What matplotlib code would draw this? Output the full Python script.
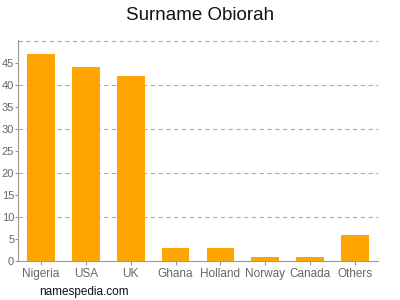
import matplotlib
matplotlib.use("Agg")
import matplotlib.pyplot as plt

countries = ["Nigeria", "USA", "UK", "Ghana", "Holland", "Norway", "Canada", "Others"]
counts = [47, 44, 42, 3, 3, 1, 1, 6]
y_ticks = [0, 5, 10, 15, 20, 25, 30, 35, 40, 45]
grid_levels = [10, 20, 30, 40, 50]

plt.rcParams["font.family"] = ["Liberation Sans", "DejaVu Sans"]

fig = plt.figure(figsize=(4, 3), dpi=100)
ax = fig.add_axes([0.046, 0.13, 0.898, 0.737])

# dashed gridlines first so bars sit over them
for g in grid_levels:
    ax.axhline(g, color="#aaaaaa", linestyle=(0, (4, 3)), linewidth=0.8, zorder=0)

ax.bar(range(len(countries)), counts, width=0.62, color="#ffa500", zorder=2)

ax.set_xlim(-0.5, len(countries) - 0.5)
ax.set_ylim(0, 50.2)
ax.set_xticks(range(len(countries)))
ax.set_xticklabels(countries)
ax.set_yticks(y_ticks)

for side in ["top", "right"]:
    ax.spines[side].set_visible(False)
ax.spines["left"].set_color("#999999")
ax.spines["bottom"].set_color("#999999")
ax.tick_params(axis="both", colors="#999999", labelcolor="#666666", width=0.8)
ax.tick_params(axis="x", labelsize=8.5, length=3, pad=2)
ax.tick_params(axis="y", labelsize=8, length=2, pad=1)

fig.text(0.5, 0.95, "Surname Obiorah", ha="center", va="center", fontsize=13.5, color="#111111")
fig.text(0.098, 0.027, "namespedia.com", ha="left", va="center", fontsize=8.5, color="#111111")

fig.savefig("out.png", dpi=100)
